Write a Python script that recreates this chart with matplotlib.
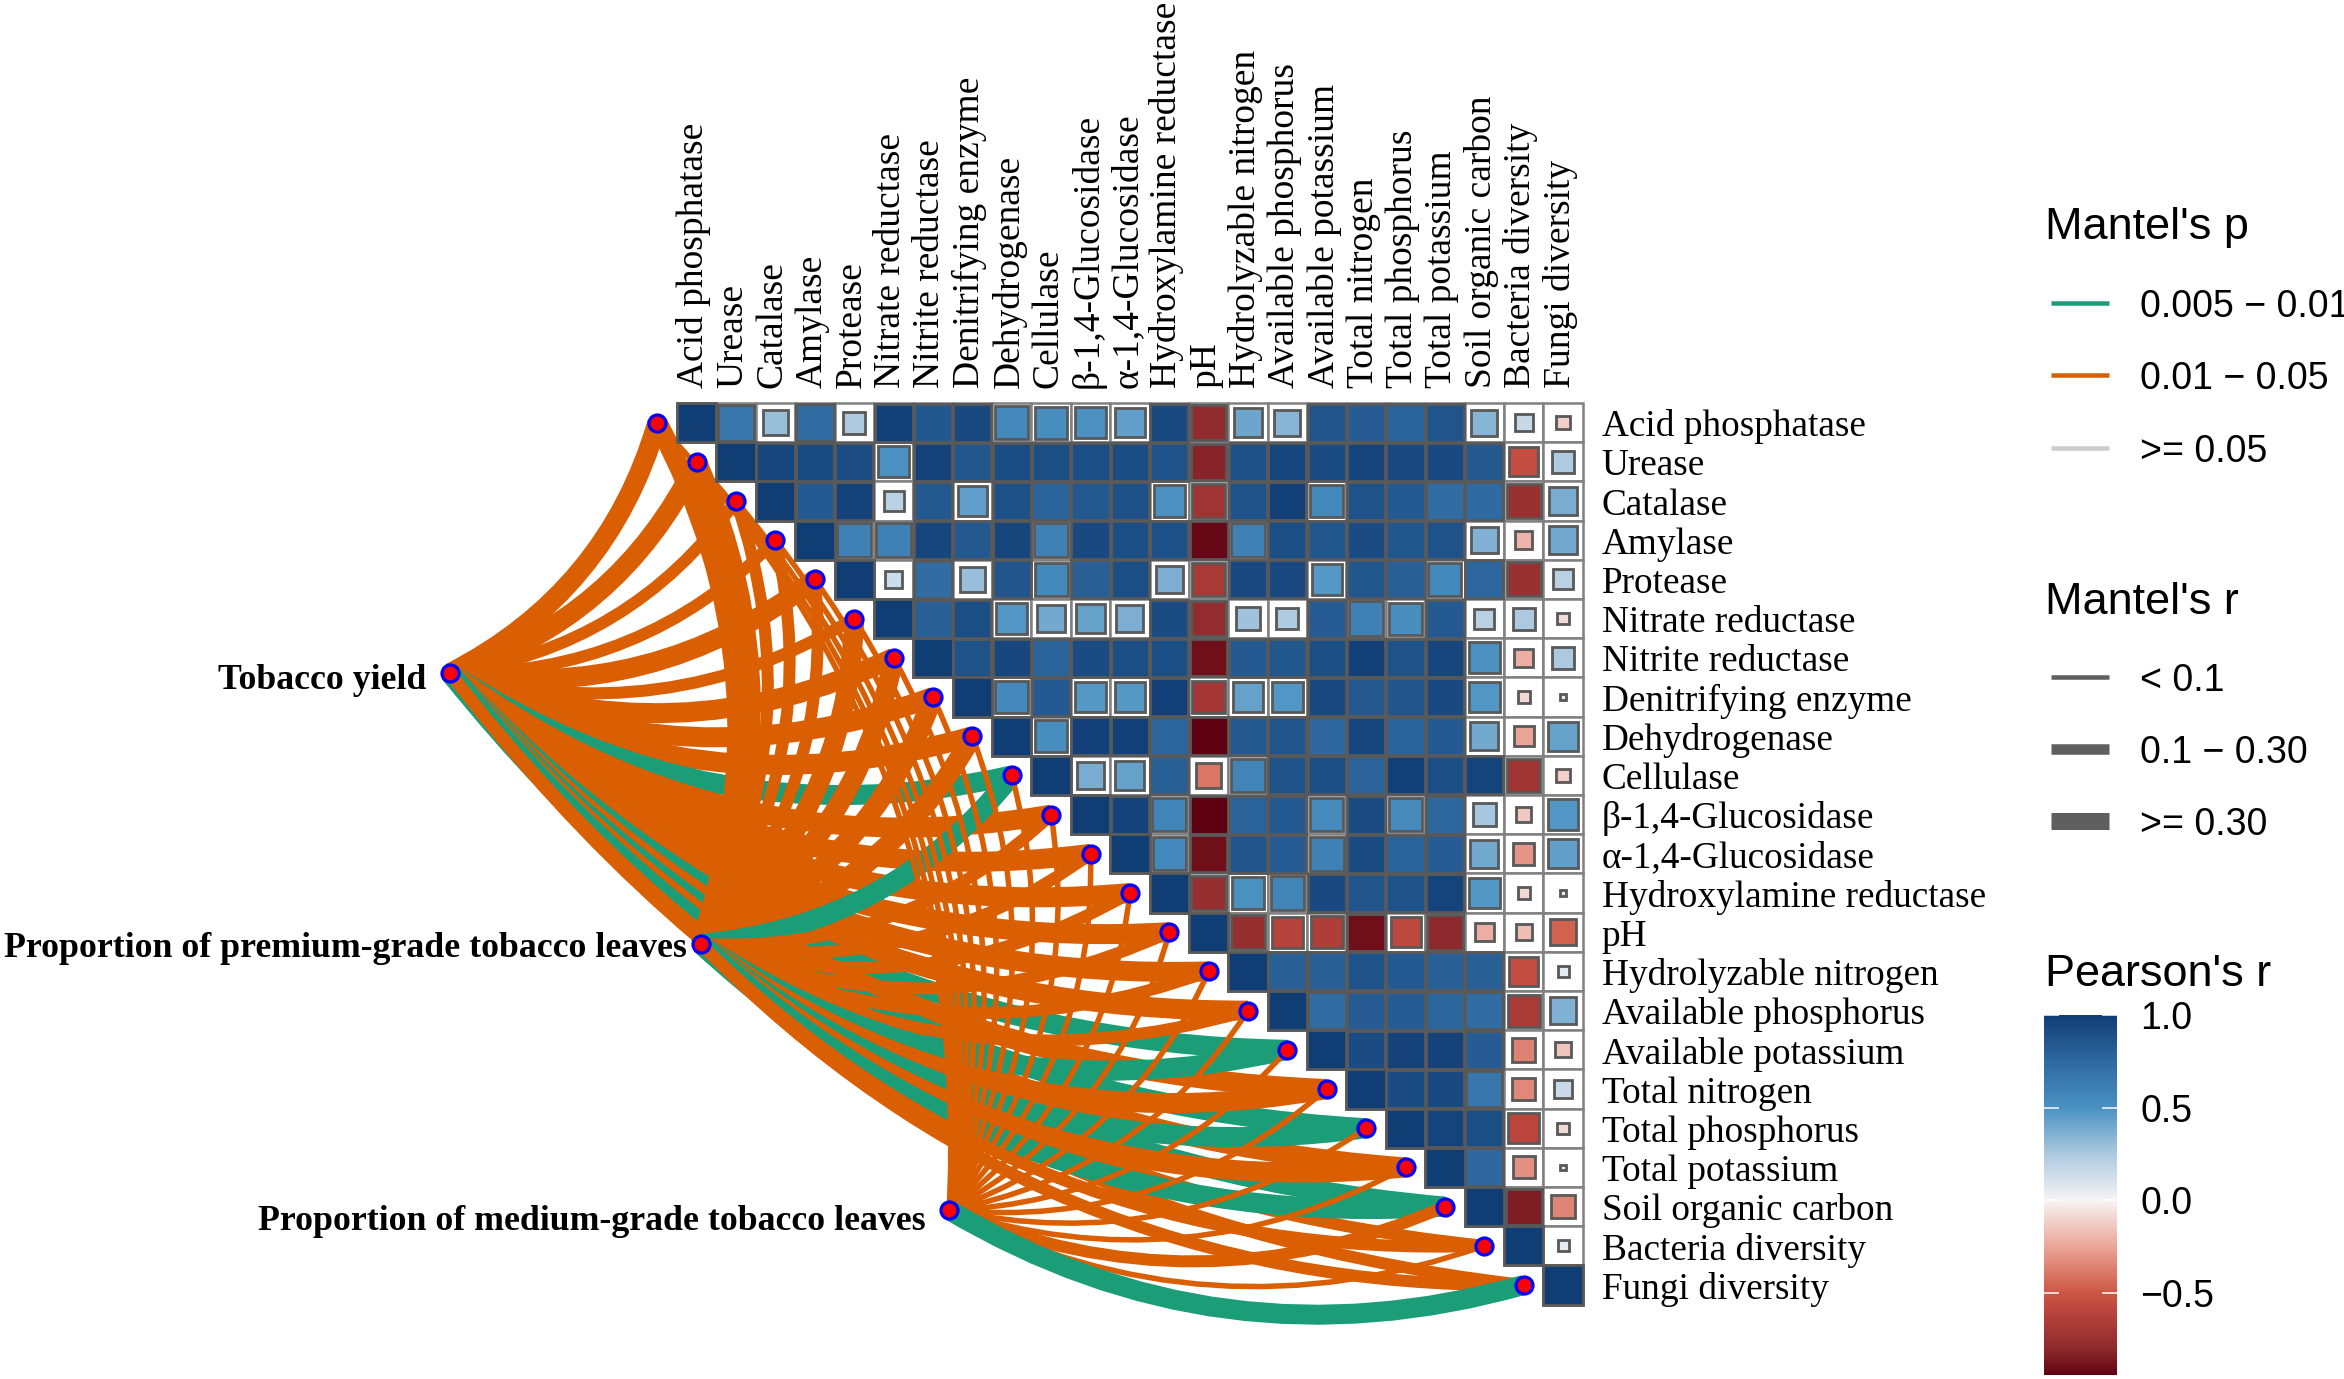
import matplotlib
matplotlib.use("Agg")
from matplotlib import pyplot as plt
from matplotlib.cm import ScalarMappable
from matplotlib.colors import LinearSegmentedColormap, Normalize
from matplotlib.lines import Line2D
from matplotlib.patches import PathPatch, Rectangle
from matplotlib.path import Path
import numpy as np

W, H = 2344, 1379
DPI = 200
SERIF = "Liberation Serif"
SANS = "Liberation Sans"

names = ["Acid phosphatase", "Urease", "Catalase", "Amylase", "Protease", "Nitrate reductase",
         "Nitrite reductase", "Denitrifying enzyme", "Dehydrogenase", "Cellulase",
         "β-1,4-Glucosidase", "α-1,4-Glucosidase", "Hydroxylamine reductase", "pH",
         "Hydrolyzable nitrogen", "Available phosphorus", "Available potassium", "Total nitrogen",
         "Total phosphorus", "Total potassium", "Soil organic carbon", "Bacteria diversity",
         "Fungi diversity"]

# upper triangle of the Pearson matrix, each row starts on the diagonal
r_rows = [
    [1.0, .66, .3, .72, .25, .98, .85, .93, .55, .52, .5, .44, .93, -.79, .41, .34, .87, .82, .78, .87, .34, .16, -.12],
    [1.0, .95, .92, .91, .5, .97, .85, .91, .9, .9, .91, .88, -.82, .89, .95, .92, .96, .93, .93, .84, -.55, .24],
    [1.0, .83, .97, .2, .84, .44, .89, .78, .84, .89, .5, -.72, .88, .98, .55, .88, .83, .72, .74, -.75, .38],
    [1.0, .6, .6, .95, .84, .95, .6, .93, .9, .89, -.92, .6, .9, .85, .92, .85, .88, .36, -.2, .39],
    [1.0, .14, .72, .3, .86, .55, .8, .9, .37, -.68, .93, .93, .47, .85, .8, .55, .76, -.75, .2],
    [1.0, .8, .9, .48, .39, .43, .37, .92, -.78, .28, .24, .82, .6, .52, .83, .2, .25, -.08],
    [1.0, .88, .94, .78, .92, .9, .9, -.9, .83, .85, .9, .98, .88, .95, .5, -.22, .25],
    [1.0, .55, .83, .47, .47, .98, -.7, .43, .48, .93, .84, .86, .93, .48, -.09, -.03],
    [1.0, .52, .98, .98, .77, -.98, .84, .87, .75, .95, .78, .83, .39, -.25, .43],
    [1.0, .38, .43, .8, -.4, .58, .88, .9, .78, .98, .9, .96, -.72, -.12],
    [1.0, .97, .58, -.98, .78, .83, .54, .92, .54, .76, .26, -.14, .48],
    [1.0, .55, -.9, .86, .82, .6, .92, .78, .82, .39, -.3, .44],
    [1.0, -.76, .5, .57, .93, .86, .88, .96, .48, -.09, .02],
    [1.0, -.77, -.62, -.65, -.9, -.58, -.8, -.22, -.17, -.46],
    [1.0, .8, .8, .88, .83, .8, .8, -.55, .06],
    [1.0, .72, .82, .82, .77, .72, -.67, .36],
    [1.0, .92, .97, .97, .82, -.36, -.15],
    [1.0, .92, .93, .66, -.34, .15],
    [1.0, .96, .9, -.6, -.08],
    [1.0, .75, -.32, -.02],
    [1.0, -.85, -.35],
    [1.0, .06],
    [1.0],
]

sources = ["Tobacco yield", "Proportion of premium-grade tobacco leaves",
           "Proportion of medium-grade tobacco leaves"]
source_x = [-6.26, 0.10, 6.41]
source_y = [6.39, 13.30, 20.09]
label_dx = [-.6, -.35, -.6]
label_dy = [.2, .12, .28]

# Mantel r class per target: s < 0.1, m 0.1 - 0.30, l >= 0.30
mantel_r = [
    "l l m m l m l l l l l l l l l l l l l l l m m".split(),
    "l l m m m l l l l l m m m m m m l l l l l m m".split(),
    "s s s s s s s s s s s s s s s s s s s s m s l".split(),
]
# Mantel p class per target: a 0.005 - 0.01, b 0.01 - 0.05
mantel_p = [
    "b b b b b b b b b a b b b b b b a b a b a b b".split(),
    "b b b b b b b b b a b b b b b b a b a b a b b".split(),
    "b b b b b b b b b b b b b b b b b b b b b b a".split(),
]

p_labels = ["0.005 − 0.01", "0.01 − 0.05", ">= 0.05"]
r_labels = ["< 0.1", "0.1 − 0.30", ">= 0.30"]
cbar_ticks = [1.0, 0.5, 0.0, -0.5]
cbar_tick_labels = ["1.0", "0.5", "0.0", "−0.5"]

GREEN, ORANGE, GREY = "#1B9E77", "#D95F02", "#CCCCCC"
p_colors = {"a": GREEN, "b": ORANGE}
link_width_px = {"s": 5.5, "m": 12, "l": 20}
key_width_px = [4.5, 10.5, 17]
CURVE = 0.215


def pts(px):
    return px * 72 / DPI


stops = [(-0.943, "#5e0012"), (-0.9, "#6f0f1a"), (-0.8, "#8f2a2d"), (-0.62, "#b5423b"), (-0.5, "#cd5644"),
         (-0.25, "#eba598"), (0.0, "#f6f4f4"), (0.25, "#acc9e0"), (0.5, "#4a91c2"), (0.75, "#2e699f"),
         (1.0, "#113d75")]
norm = Normalize(-0.943, 1.0)
cmap = LinearSegmentedColormap.from_list("pearson", [(norm(v), c) for v, c in stops], N=512)

fig = plt.figure(figsize=(W / DPI, H / DPI), dpi=DPI)
ax = fig.add_axes([0, 0, 1, 1])
# one data unit is one cell of the matrix, row numbers run downwards
ax.set_xlim((0 - 696.7) / 39.38, (W - 696.7) / 39.38)
ax.set_ylim((H - 422.6) / 39.2, (0 - 422.6) / 39.2)
ax.axis("off")

# links
for s in range(3):
    for t in range(len(names)):
        x0, y0 = source_x[s], source_y[s]
        x1, y1 = t - 1, t
        cx = (x0 + x1) / 2 - (y1 - y0) * CURVE
        cy = (y0 + y1) / 2 + (x1 - x0) * CURVE
        path = Path([(x0, y0), (cx, cy), (x1, y1)], [Path.MOVETO, Path.CURVE3, Path.CURVE3])
        ax.add_patch(PathPatch(path, fill=False, edgecolor=p_colors[mantel_p[s][t]],
                               lw=pts(link_width_px[mantel_r[s][t]]), capstyle="butt", zorder=2))

# matrix
for i, row in enumerate(r_rows):
    for k, r in enumerate(row):
        j = i + k
        ax.add_patch(Rectangle((j - .5, i - .5), 1, 1, facecolor="white", edgecolor="#808080",
                               lw=pts(2.5), zorder=3))
        side = min(0.97, (1.13 if r > 0 else 1.0) * np.sqrt(abs(r)))
        if r == 1.0:
            side = 1.0
        ax.add_patch(Rectangle((j - side / 2, i - side / 2), side, side, facecolor=cmap(norm(r)),
                               edgecolor="#595959", lw=pts(2.8), zorder=4))

# nodes
ax.scatter(source_x + [t - 1 for t in range(len(names))],
           source_y + list(range(len(names))),
           s=pts(17) ** 2, facecolor="red", edgecolor="blue", lw=pts(3.2), zorder=5)

for i, name in enumerate(names):
    ax.text(i - .07, -0.88, name, rotation=90, ha="center", va="bottom", family=SERIF, fontsize=13.5)
    ax.text(22.98, i + .11, name, ha="left", va="center", family=SERIF, fontsize=13.4)

for k, name in enumerate(sources):
    ax.text(source_x[k] + label_dx[k], source_y[k] + label_dy[k], name, ha="right", va="center",
            family=SERIF, weight="bold", fontsize=12.9)


# legends, placed in figure pixels
def fig_text(x, y, s, size):
    fig.text(x / W, 1 - y / H, s, family=SANS, fontsize=size, ha="left", va="center")


def key(y, color, px):
    fig.add_artist(Line2D([2051 / W, 2109 / W], [1 - y / H] * 2, color=color, lw=pts(px),
                          solid_capstyle="butt", transform=fig.transFigure))


fig_text(2045, 228, "Mantel's p", 16.2)
for y, label, c in zip([303, 375, 448], p_labels, [GREEN, ORANGE, GREY]):
    key(y, c, 4.5)
    fig_text(2140, y + 4, label, 13.5)

fig_text(2045, 602, "Mantel's r", 16.2)
for y, label, px in zip([677, 749, 821], r_labels, key_width_px):
    key(y, "#5f5f5f", px)
    fig_text(2140, y + 4, label, 13.5)

fig_text(2045, 975, "Pearson's r", 16.2)
cax = fig.add_axes([2044 / W, 1 - 1375 / H, 73 / W, 360 / H])
cb = fig.colorbar(ScalarMappable(norm, cmap), cax=cax)
cb.outline.set_visible(False)
cb.set_ticks(cbar_ticks, labels=cbar_tick_labels)
cax.tick_params(left=True, right=True, direction="in", color="white", length=pts(15), width=pts(1.5),
                pad=pts(23), labelsize=13.5)
for lab in cax.get_yticklabels():
    lab.set_family(SANS)

fig.savefig("out.png", dpi=DPI)
